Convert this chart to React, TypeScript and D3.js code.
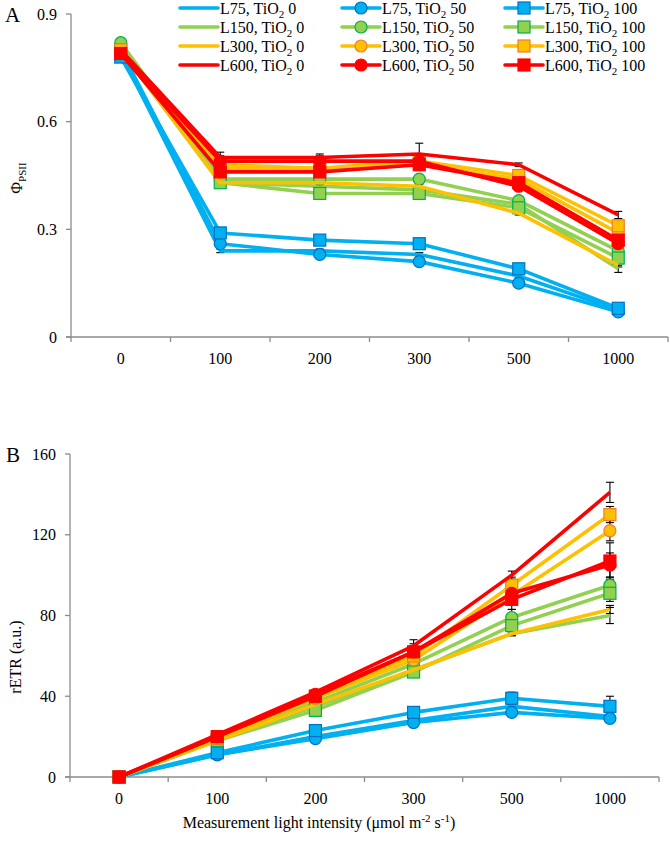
import React from 'react';
import * as d3 from 'd3';

// ---------- DATA ----------
const categories = ['0', '100', '200', '300', '500', '1000'];
const lightLevels = ['L75', 'L150', 'L300', 'L600'];
const tioLevels = ['0', '50', '100'];
const lineColors = ['#00B0F0', '#92D050', '#FFC000', '#FF0000'];
const markerStrokes = ['#0070C0', '#00B050', '#ED7D31', '#FF0000'];

// Panel A: ΦPSII
const phiL75_0 = [0.79, 0.24, 0.24, 0.23, 0.17, 0.075];
const phiL75_50 = [0.80, 0.26, 0.23, 0.21, 0.15, 0.07];
const phiL75_100 = [0.78, 0.29, 0.27, 0.26, 0.19, 0.08];
const phiL150_0 = [0.80, 0.43, 0.42, 0.41, 0.37, 0.19];
const phiL150_50 = [0.82, 0.44, 0.44, 0.44, 0.38, 0.24];
const phiL150_100 = [0.80, 0.43, 0.40, 0.40, 0.36, 0.22];
const phiL300_0 = [0.80, 0.43, 0.43, 0.42, 0.345, 0.20];
const phiL300_50 = [0.80, 0.48, 0.47, 0.48, 0.44, 0.29];
const phiL300_100 = [0.80, 0.47, 0.47, 0.49, 0.45, 0.31];
const phiL600_0 = [0.80, 0.50, 0.50, 0.51, 0.48, 0.34];
const phiL600_50 = [0.79, 0.49, 0.49, 0.49, 0.42, 0.26];
const phiL600_100 = [0.79, 0.46, 0.46, 0.48, 0.43, 0.27];

const phiErrL75_0 = [0.005, 0.005, 0.005, 0.005, 0.005, 0.005];
const phiErrL75_50 = [0.01, 0.01, 0.01, 0.01, 0.01, 0.005];
const phiErrL75_100 = [0.01, 0.015, 0.01, 0.01, 0.01, 0.01];
const phiErrL150_0 = [0.005, 0.005, 0.005, 0.005, 0.005, 0.01];
const phiErrL150_50 = [0.01, 0.01, 0.01, 0.01, 0.01, 0.01];
const phiErrL150_100 = [0.01, 0.01, 0.01, 0.01, 0.01, 0.01];
const phiErrL300_0 = [0.005, 0.005, 0.005, 0.005, 0.005, 0.005];
const phiErrL300_50 = [0.01, 0.01, 0.01, 0.01, 0.01, 0.01];
const phiErrL300_100 = [0.01, 0.01, 0.01, 0.01, 0.01, 0.01];
const phiErrL600_0 = [0.005, 0.005, 0.005, 0.03, 0.005, 0.01];
const phiErrL600_50 = [0.01, 0.025, 0.02, 0.01, 0.01, 0.01];
const phiErrL600_100 = [0.01, 0.01, 0.01, 0.01, 0.01, 0.01];

// Panel B: rETR
const etrL75_0 = [0, 11, 20, 28, 35, 30];
const etrL75_50 = [0, 11, 19, 27, 32, 29];
const etrL75_100 = [0, 12, 23, 32, 39, 35];
const etrL150_0 = [0, 18, 35, 53, 71, 80];
const etrL150_50 = [0, 19, 37, 56, 79, 95];
const etrL150_100 = [0, 18, 33, 52, 75, 91];
const etrL300_0 = [0, 18, 36, 53, 71, 83];
const etrL300_50 = [0, 19, 39, 58, 90, 122];
const etrL300_100 = [0, 19, 40, 60, 95, 130];
const etrL600_0 = [0, 21, 42, 65, 100, 141];
const etrL600_50 = [0, 20, 41, 62, 91, 105];
const etrL600_100 = [0, 20, 40, 62, 88, 107];

const etrErrL75_0 = [0, 1, 1, 1, 1, 1];
const etrErrL75_50 = [0, 1, 1, 1, 2, 2];
const etrErrL75_100 = [0, 1, 2, 2, 3, 5];
const etrErrL150_0 = [0, 1, 1, 1, 1, 4];
const etrErrL150_50 = [0, 1, 2, 2, 4, 4];
const etrErrL150_100 = [0, 1, 2, 2, 3, 4];
const etrErrL300_0 = [0, 1, 1, 1, 1, 2];
const etrErrL300_50 = [0, 1, 2, 3, 4, 5];
const etrErrL300_100 = [0, 1, 2, 3, 4, 4];
const etrErrL600_0 = [0, 1, 1, 3, 2, 5];
const etrErrL600_50 = [0, 1, 2, 3, 4, 6];
const etrErrL600_100 = [0, 1, 2, 4, 5, 9];

const phiTicks = [0, 0.3, 0.6, 0.9];
const etrTicks = [0, 40, 80, 120, 160];

// Series tables (light-level major order, TiO2 minor)
const phiValues = [
  [phiL75_0, phiL75_50, phiL75_100],
  [phiL150_0, phiL150_50, phiL150_100],
  [phiL300_0, phiL300_50, phiL300_100],
  [phiL600_0, phiL600_50, phiL600_100],
];
const phiErrors = [
  [phiErrL75_0, phiErrL75_50, phiErrL75_100],
  [phiErrL150_0, phiErrL150_50, phiErrL150_100],
  [phiErrL300_0, phiErrL300_50, phiErrL300_100],
  [phiErrL600_0, phiErrL600_50, phiErrL600_100],
];
const etrValues = [
  [etrL75_0, etrL75_50, etrL75_100],
  [etrL150_0, etrL150_50, etrL150_100],
  [etrL300_0, etrL300_50, etrL300_100],
  [etrL600_0, etrL600_50, etrL600_100],
];
const etrErrors = [
  [etrErrL75_0, etrErrL75_50, etrErrL75_100],
  [etrErrL150_0, etrErrL150_50, etrErrL150_100],
  [etrErrL300_0, etrErrL300_50, etrErrL300_100],
  [etrErrL600_0, etrErrL600_50, etrErrL600_100],
];

// ---------- STYLE ----------
const FONT = '"Liberation Serif", "Times New Roman", serif';
const AXIS = '#8c8c8c';
const LINE_W = 3.6;
const MSIZE = 12;

function Marker({ kind, cx, cy, li }: { kind: number; cx: number; cy: number; li: number }) {
  if (kind === 1) {
    return (
      <circle cx={cx} cy={cy} r={MSIZE / 2} fill={lineColors[li]} stroke={markerStrokes[li]} strokeWidth={1.2} />
    );
  }
  if (kind === 2) {
    return (
      <rect x={cx - MSIZE / 2} y={cy - MSIZE / 2} width={MSIZE} height={MSIZE} fill={lineColors[li]} stroke={markerStrokes[li]} strokeWidth={1.2} />
    );
  }
  return null;
}

type PanelProps = {
  x: d3.ScaleBand<string>;
  y: d3.ScaleLinear<number, number>;
  ticks: number[];
  fmt: (v: number) => string;
  values: number[][][];
  errors: number[][][];
};

function Panel({ x, y, ticks, fmt, values, errors }: PanelProps) {
  const [x0, x1] = x.range();
  const [y0, y1] = y.range(); // bottom, top
  const bw = x.bandwidth();
  const cx = (c: string) => (x(c) as number) + bw / 2;
  const bounds = categories.map((c) => x(c) as number).concat([x1]);
  const errorBars: JSX.Element[] = [];
  const series: JSX.Element[] = [];
  values.forEach((group, li) => {
    group.forEach((vals, ti) => {
      const line = d3
        .line<number>()
        .x((_, i) => cx(categories[i]))
        .y((v) => y(v));
      const errs = errors[li][ti];
      vals.forEach((v, i) => {
        const e = errs[i];
        if (!e) return;
        const px = cx(categories[i]);
        const ya = y(v + e);
        const yb = y(v - e);
        errorBars.push(
          <g key={`e${li}-${ti}-${i}`} stroke="#000" strokeWidth={1.1}>
            <line x1={px} x2={px} y1={ya} y2={yb} />
            <line x1={px - 4} x2={px + 4} y1={ya} y2={ya} />
            <line x1={px - 4} x2={px + 4} y1={yb} y2={yb} />
          </g>
        );
      });
      series.push(
        <g key={`s${li}-${ti}`}>
          <path d={line(vals) || ''} fill="none" stroke={lineColors[li]} strokeWidth={LINE_W} strokeLinejoin="round" />
          {vals.map((v, i) => (
            <Marker key={`m${i}`} kind={ti} cx={cx(categories[i])} cy={y(v)} li={li} />
          ))}
        </g>
      );
    });
  });
  return (
    <g>
      {/* axes */}
      <line x1={x0} x2={x0} y1={y0} y2={y1} stroke={AXIS} strokeWidth={1.3} />
      <line x1={x0 - 5} x2={x1} y1={y0} y2={y0} stroke={AXIS} strokeWidth={1.3} />
      {ticks.map((t) => (
        <g key={t}>
          <line x1={x0 - 5} x2={x0} y1={y(t)} y2={y(t)} stroke={AXIS} strokeWidth={1.3} />
          <text x={x0 - 14} y={y(t)} dy="0.35em" textAnchor="end" fontSize={16} fontFamily={FONT} fill="#000">
            {fmt(t)}
          </text>
        </g>
      ))}
      {bounds.map((bx, i) => (
        <line key={i} x1={bx} x2={bx} y1={y0} y2={y0 + 5} stroke={AXIS} strokeWidth={1.3} />
      ))}
      {categories.map((c) => (
        <text key={c} x={cx(c)} y={y0 + 21} dy="0.35em" textAnchor="middle" fontSize={16} fontFamily={FONT} fill="#000">
          {c}
        </text>
      ))}
      {errorBars}
      {series}
    </g>
  );
}

function Legend() {
  const colX = [180, 342, 505];
  const rowY = [8, 27, 46, 65];
  const items: JSX.Element[] = [];
  tioLevels.forEach((t, ti) => {
    lightLevels.forEach((l, li) => {
      const lx = colX[ti];
      const ly = rowY[li];
      items.push(
        <g key={`${ti}-${li}`}>
          <line x1={lx} x2={lx + 38} y1={ly} y2={ly} stroke={lineColors[li]} strokeWidth={LINE_W} strokeLinecap="round" />
          <Marker kind={ti} cx={lx + 19} cy={ly} li={li} />
          <text x={lx + 40} y={ly} dy="0.35em" fontSize={16} fontFamily={FONT} fill="#000">
            {l}, TiO
            <tspan fontSize={11} dy={4}>2</tspan>
            <tspan dy={-4}> {t}</tspan>
          </text>
        </g>
      );
    });
  });
  return <g>{items}</g>;
}

export default function App() {
  const xA = d3.scaleBand<string>().domain(categories).range([71, 668]).padding(0);
  const yA = d3.scaleLinear().domain([0, 0.9]).range([337, 14]);
  const xB = d3.scaleBand<string>().domain(categories).range([70, 659]).padding(0);
  const yB = d3.scaleLinear().domain([0, 160]).range([777, 454]);

  return (
    <svg
      width={670}
      height={851}
      viewBox="0 0 670 851"
      style={{ position: 'absolute', left: 0, top: 0, background: '#fff' }}
    >
      <rect x={0} y={0} width={670} height={851} fill="#fff" />
      <Panel x={xA} y={yA} ticks={phiTicks} fmt={(v) => (v === 0 ? '0' : v.toFixed(1))} values={phiValues} errors={phiErrors} />
      <Panel x={xB} y={yB} ticks={etrTicks} fmt={(v) => String(v)} values={etrValues} errors={etrErrors} />
      <Legend />
      {/* panel letters */}
      <text x={5} y={15} dy="0.35em" fontSize={21} fontFamily={FONT} fill="#000">A</text>
      <text x={6} y={455} dy="0.35em" fontSize={21} fontFamily={FONT} fill="#000">B</text>
      {/* y titles */}
      <text transform="translate(16,178) rotate(-90)" textAnchor="middle" dy="0.35em" fontSize={16} fontFamily={FONT} fill="#000">
        Φ<tspan fontSize={11} dy={4}>PSII</tspan>
      </text>
      <text transform="translate(15,657) rotate(-90)" textAnchor="middle" dy="0.35em" fontSize={16} fontFamily={FONT} fill="#000">
        rETR (a.u.)
      </text>
      {/* x title */}
      <text x={319} y={828} textAnchor="middle" fontSize={16} fontFamily={FONT} fill="#000">
        Measurement light intensity (μmol m
        <tspan fontSize={11} dy={-6}>-2</tspan>
        <tspan dy={6}> s</tspan>
        <tspan fontSize={11} dy={-6}>-1</tspan>
        <tspan dy={6}>)</tspan>
      </text>
    </svg>
  );
}
